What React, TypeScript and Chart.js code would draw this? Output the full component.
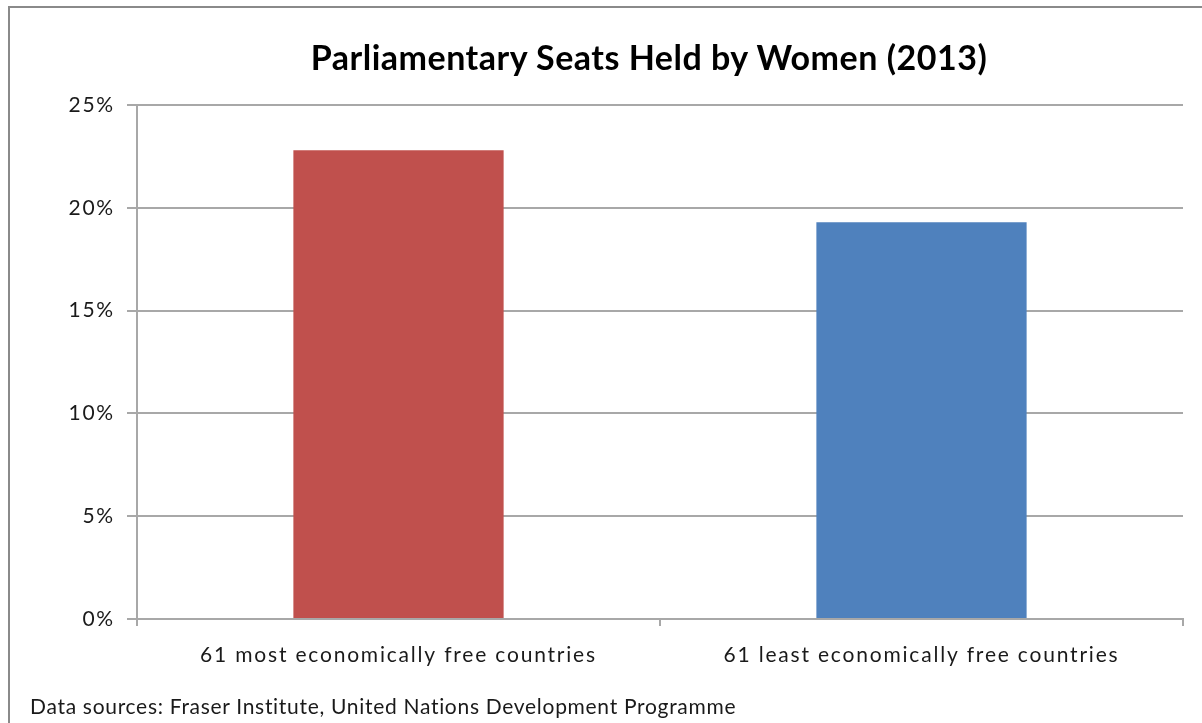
import React, { useEffect, useRef } from "react";
import { Chart, registerables } from "chart.js";

Chart.register(...registerables);

const categories = [
  "61 most economically free countries",
  "61 least economically free countries",
];
const seatShares = [22.8, 19.3];
const barColors = ["#C0504D", "#4F81BD"];
const yTickValues = [0, 5, 10, 15, 20, 25];
const titleText = "Parliamentary Seats Held by Women (2013)";
const sourceText =
  "Data sources: Fraser Institute, United Nations Development Programme";

const FONT = "Lato, 'Open Sans', sans-serif";
const GRID = "#a8a8a8";
const TEXT = "#1a1a1a";

const spacingPlugin = {
  id: "letterSpacing",
  beforeDraw(chart: any) {
    chart.ctx.letterSpacing = "1.8px";
  },
};

export default function App() {
  const canvasRef = useRef<HTMLCanvasElement | null>(null);

  useEffect(() => {
    if (!canvasRef.current) return;
    const chart = new Chart(canvasRef.current, {
      type: "bar",
      data: {
        labels: categories,
        datasets: [
          {
            data: seatShares,
            backgroundColor: barColors,
            borderWidth: 0,
            barPercentage: 0.402,
            categoryPercentage: 1,
          },
        ],
      },
      plugins: [spacingPlugin],
      options: {
        responsive: false,
        animation: false,
        layout: { padding: { left: 0, right: 19, top: 105, bottom: 0 } },
        plugins: {
          legend: { display: false },
          tooltip: { enabled: false },
          title: { display: false },
        },
        scales: {
          x: {
            grid: {
              display: true,
              drawOnChartArea: false,
              drawTicks: true,
              tickLength: 7,
              color: GRID,
              lineWidth: 2,
              offset: true,
            },
            border: { display: true, color: GRID, width: 2 },
            ticks: {
              color: TEXT,
              font: { family: FONT, size: 21 },
              padding: 17,
              maxRotation: 0,
            },
            afterFit: (scale: any) => {
              scale.height = 104;
            },
          },
          y: {
            min: 0,
            max: 25,
            afterBuildTicks: (scale: any) => {
              scale.ticks = yTickValues.map((v) => ({ value: v }));
            },
            grid: {
              color: GRID,
              lineWidth: 2,
              drawTicks: true,
              tickLength: 10,
            },
            border: { display: true, color: GRID, width: 2 },
            ticks: {
              color: TEXT,
              font: { family: FONT, size: 21 },
              padding: 12,
              callback: (v: any) => `${v}%`,
            },
            afterFit: (scale: any) => {
              scale.width = 137;
            },
          },
        },
      },
    });
    return () => chart.destroy();
  }, []);

  return (
    <div
      style={{
        position: "absolute",
        left: 0,
        top: 0,
        width: 1202,
        height: 723,
        overflow: "hidden",
        background: "#fff",
      }}
    >
      <canvas
        ref={canvasRef}
        width={1202}
        height={723}
        style={{ position: "absolute", left: 0, top: 0, display: "block" }}
      />
      <div
        style={{
          position: "absolute",
          left: 0,
          top: 37,
          width: 1298,
          textAlign: "center",
          fontFamily: FONT,
          fontWeight: "bold",
          fontSize: 34,
          letterSpacing: "0.5px",
          lineHeight: "40px",
          color: "#000",
          whiteSpace: "nowrap",
        }}
      >
        {titleText}
      </div>
      <div
        style={{
          position: "absolute",
          left: 8,
          top: 6,
          width: 1400,
          height: 900,
          border: "2px solid #8a8a8a",
          pointerEvents: "none",
        }}
      />
      <div
        style={{
          position: "absolute",
          left: 30,
          top: 693,
          fontFamily: FONT,
          fontSize: 21,
          letterSpacing: "0.7px",
          color: TEXT,
          whiteSpace: "nowrap",
          lineHeight: "26px",
        }}
      >
        {sourceText}
      </div>
    </div>
  );
}
